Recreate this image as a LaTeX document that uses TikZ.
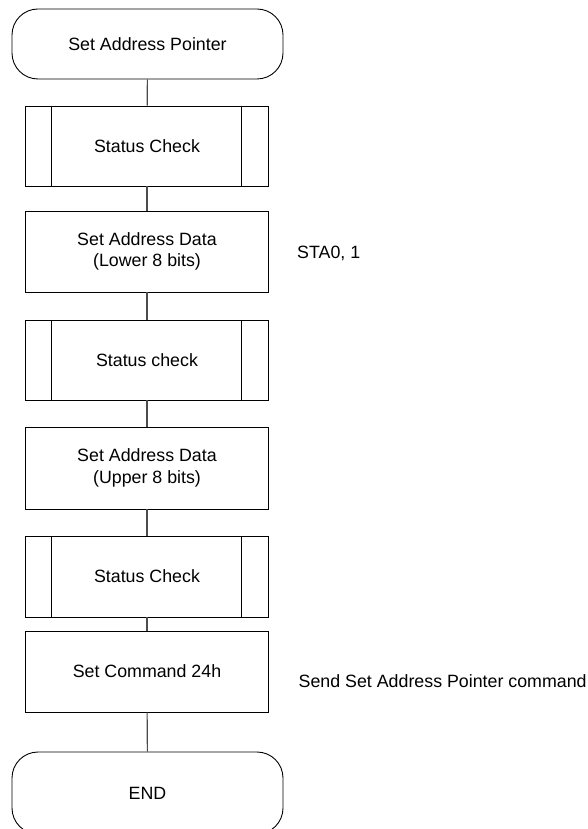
\documentclass[tikz,border=0pt]{standalone}
\usepackage{fontspec}
\setmainfont{Liberation Sans}
\begin{document}
\begin{tikzpicture}[x=1pt,y=-1pt,
  every node/.style={font=\fontsize{17.8}{21.5}\selectfont},
  boxline/.style={draw=black,line width=0.9pt},
  procbox/.style={boxline,rectangle,minimum width=243pt,align=center,inner sep=0pt},
  termbox/.style={boxline,rectangle,rounded corners=26pt,minimum width=271pt,inner sep=0pt},
  subbox/.style={procbox,path picture={
      \draw[line width=0.9pt] ([xshift=26pt]path picture bounding box.north west) -- ([xshift=26pt]path picture bounding box.south west);
      \draw[line width=0.9pt] ([xshift=-27pt]path picture bounding box.north east) -- ([xshift=-27pt]path picture bounding box.south east);}},
  conn/.style={draw=black!70,line width=1.1pt},
  note/.style={anchor=base west,inner sep=0pt}]
\useasboundingbox (0,0) rectangle (588,829);
\fill[white] (0,0) rectangle (588,829);
\node[termbox,minimum height=70pt] (start) at (147.5,44) {Set Address Pointer};
\node[subbox,minimum height=80pt] (sc1) at (147,146) {Status Check};
\node[procbox,minimum height=81pt] (lower) at (147,251.5) {Set Address Data\\(Lower 8 bits)};
\node[subbox,minimum height=80pt] (sc2) at (147,360) {Status check};
\node[procbox,minimum height=82pt] (upper) at (147,468) {Set Address Data\\(Upper 8 bits)};
\node[subbox,minimum height=81pt] (sc3) at (147,576.5) {Status Check};
\node[procbox,minimum height=81pt] (cmd) at (147,671.5) {Set Command 24h};
\node[termbox,minimum height=82pt] (end) at (147.5,793) {END};
\node[note] (sta) at (297,258.3) {STA0, 1};
\node[note] (send) at (298.5,687.7) {Send Set Address Pointer command};
\draw[conn] (start) -- (sc1);
\draw[conn] (sc1) -- (lower);
\draw[conn] (lower) -- (sc2);
\draw[conn] (sc2) -- (upper);
\draw[conn] (upper) -- (sc3);
\draw[conn] (sc3) -- (cmd);
\draw[conn] (cmd) -- (end);
\end{tikzpicture}
\end{document}
